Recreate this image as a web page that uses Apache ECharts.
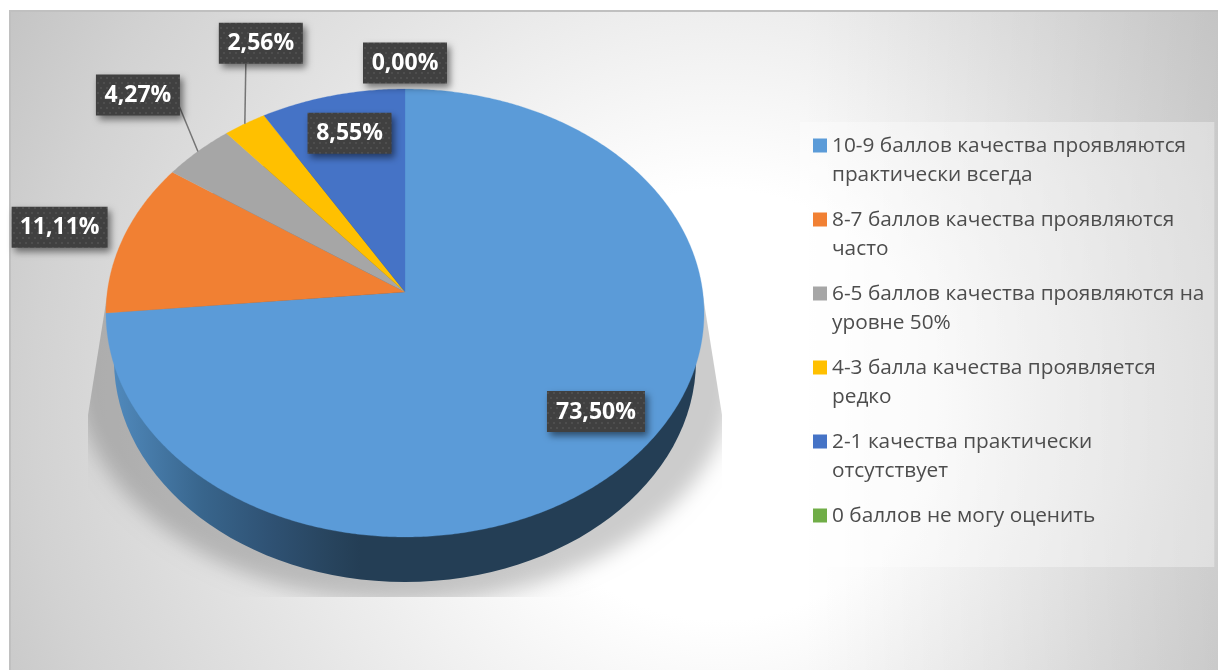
<!DOCTYPE html>
<html><head><meta charset="utf-8">
<style>html,body{margin:0;padding:0;background:#fff}#c{width:1218px;height:670px}</style>
<script src="https://cdn.jsdelivr.net/npm/echarts@6/dist/echarts.min.js"></script>
</head><body><div id="c"></div>
<script>
const categories = [
  '10-9 баллов качества проявляются\nпрактически всегда',
  '8-7 баллов качества проявляются\nчасто',
  '6-5 баллов качества проявляются на\nуровне 50%',
  '4-3 балла качества проявляется\nредко',
  '2-1 качества практически\nотсутствует',
  '0 баллов не могу оценить\n '
];
const percents = [73.50, 11.11, 4.27, 2.56, 8.55, 0.00];
const colors = ['#5b9bd8', '#f18033', '#a6a6a6', '#ffc000', '#4573c6', '#70ad47'];
// label box centre, relative to the point of the rim at the middle of the slice
const labelOffsets = [[-44,-40],[-64,-10],[-60,-56.5],[16,-80.5],[17,37.5],[0,-26]];
const labelWidths = [98,96,84,84,84,84];
const leaderAnchors = [null,null,[83,31],[27,41],null,null];

const CX = 405, CY = 292, A = 297.7, B = 222, K = 0.09375;
const TOTAL = percents.reduce((a,b)=>a+b,0);
const FONT = '"Open Sans","Noto Sans",sans-serif';

function rim(share){
  const t = share*2*Math.PI, u = Math.sin(t), v = Math.cos(t), w = 1+K*v;
  return [CX + A*u/w, CY - B*v/w];
}
function cumBefore(i){ let s=0; for(let j=0;j<i;j++) s+=percents[j]; return s; }

const tile = document.createElement('canvas');
tile.width = 12; tile.height = 10;
(function(){
  const g = tile.getContext('2d');
  g.fillStyle='#404040'; g.fillRect(0,0,12,10);
  g.fillStyle='#4e4e4e';
  [[1,2],[7,2],[4,7],[10,7]].forEach(p=>g.fillRect(p[0],p[1],2,2));
})();

function sliceItem(i){
  return function(params, api){
    const val = api.value(0);
    const a = cumBefore(i)/TOTAL, b = a + val/TOTAL;
    const n = Math.max(2, Math.ceil((b-a)*720));
    const pts = [[CX,CY]];
    for(let s=0;s<=n;s++) pts.push(rim(a+(b-a)*s/n));
    return {type:'polygon', shape:{points:pts},
      style:{fill:colors[i], stroke: val>0?colors[i]:null, lineWidth:0.3}};
  };
}

const baseSeries = {
  type:'custom', name:'base', coordinateSystem:'none', silent:true, z:1, data:[[1]],
  renderItem(){
    return {type:'group', children:[
      {type:'ellipse', shape:{cx:CX-3000, cy:370, rx:330, ry:232},
       clipPath:{type:'polygon', shape:{points:[[108,290],[88,415],[88,597],[722,597],[722,415],[702,290]]}},
       style:{fill:'#000', shadowBlur:20, shadowColor:'rgba(0,0,0,0.2)', shadowOffsetX:3000}},
      {type:'ellipse', shape:{cx:CX, cy:360, rx:291, ry:222},
       style:{fill:{type:'linear', global:true, x:114, y:0, x2:360, y2:0, colorStops:[
         {offset:0, color:'#5089bc'},{offset:0.36,color:'#38658c'},{offset:0.63,color:'#2f5274'},
         {offset:0.9,color:'#27435c'},{offset:1,color:'#243e55'}]}}}
    ]};
  }
};

const sliceSeries = categories.map((name,i)=>({
  type:'custom', name, coordinateSystem:'none', z:2, silent:true,
  itemStyle:{color:colors[i]}, data:[[percents[i]]], renderItem:sliceItem(i)
}));

const labelSeries = {
  type:'custom', name:'labels', coordinateSystem:'none', z:5, silent:true,
  data:percents.map(p=>[p]),
  renderItem(params, api){
    const i = params.dataIndex, val = api.value(0);
    const p = rim((cumBefore(i)+val/2)/TOTAL);
    const o = labelOffsets[i], w = labelWidths[i], h = 41;
    const x = p[0]+o[0]-w/2, y = p[1]+o[1]-h/2;
    const children = [];
    if(leaderAnchors[i]){
      children.push({type:'line', shape:{x1:p[0],y1:p[1],x2:x+leaderAnchors[i][0],y2:y+leaderAnchors[i][1]},
        style:{stroke:'#757575', lineWidth:1.5}});
    }
    children.push({type:'rect', shape:{x,y,width:w,height:h},
      style:{fill:{image:tile, repeat:'repeat'}, shadowBlur:7, shadowColor:'rgba(0,0,0,0.5)', shadowOffsetX:3, shadowOffsetY:4}});
    children.push({type:'text', style:{text:val.toFixed(2).replace('.',',')+'%', x:x+w/2, y:y+h/2+0.5,
      align:'center', verticalAlign:'middle', fill:'#fff', font:'700 23px '+FONT}});
    return {type:'group', children};
  }
};

const ICON = 'path://M0 0H14V14H0ZM0 43.99H.01V44H0Z';
const chart = echarts.init(document.getElementById('c'), null, {renderer:'canvas', width:1218, height:670});
chart.setOption({
  animation:false,
  backgroundColor:'#ffffff',
  graphic:[
    {type:'rect', z:-10, silent:true, shape:{x:9,y:10,width:1209,height:660},
     style:{fill:{type:'radial', global:true, x:720, y:405, r:860, colorStops:[
       {offset:0,color:'#ffffff'},{offset:0.25,color:'#ffffff'},{offset:0.55,color:'#e6e6e6'},{offset:0.8,color:'#d2d2d2'},{offset:1,color:'#bfbfbf'}]}}},
    {type:'rect', z:-9, silent:true, shape:{x:800,y:10,width:418,height:660},
     style:{fill:{type:'linear', global:true, x:800,y:0,x2:1218,y2:0, colorStops:[
       {offset:0,color:'rgba(0,0,0,0)'},{offset:1,color:'rgba(0,0,0,0.09)'}]}}},
    {type:'rect', z:-8, silent:true, shape:{x:9,y:10,width:1209,height:2}, style:{fill:'#c0c0c0'}},
    {type:'rect', z:-8, silent:true, shape:{x:9,y:10,width:2,height:660}, style:{fill:'#c0c0c0'}}
  ],
  legend:{
    orient:'vertical', left:800, top:122, selectedMode:false,
    padding:[9.5,10,7.5,13], backgroundColor:'rgba(255,255,255,0.35)',
    itemWidth:14, itemHeight:44, itemGap:16,
    data:categories.map(name=>({name, icon:ICON})),
    textStyle:{fontFamily:FONT, fontSize:20.8, lineHeight:29, color:'#4d4d4d'}
  },
  series:[baseSeries].concat(sliceSeries,[labelSeries])
});
</script></body></html>
